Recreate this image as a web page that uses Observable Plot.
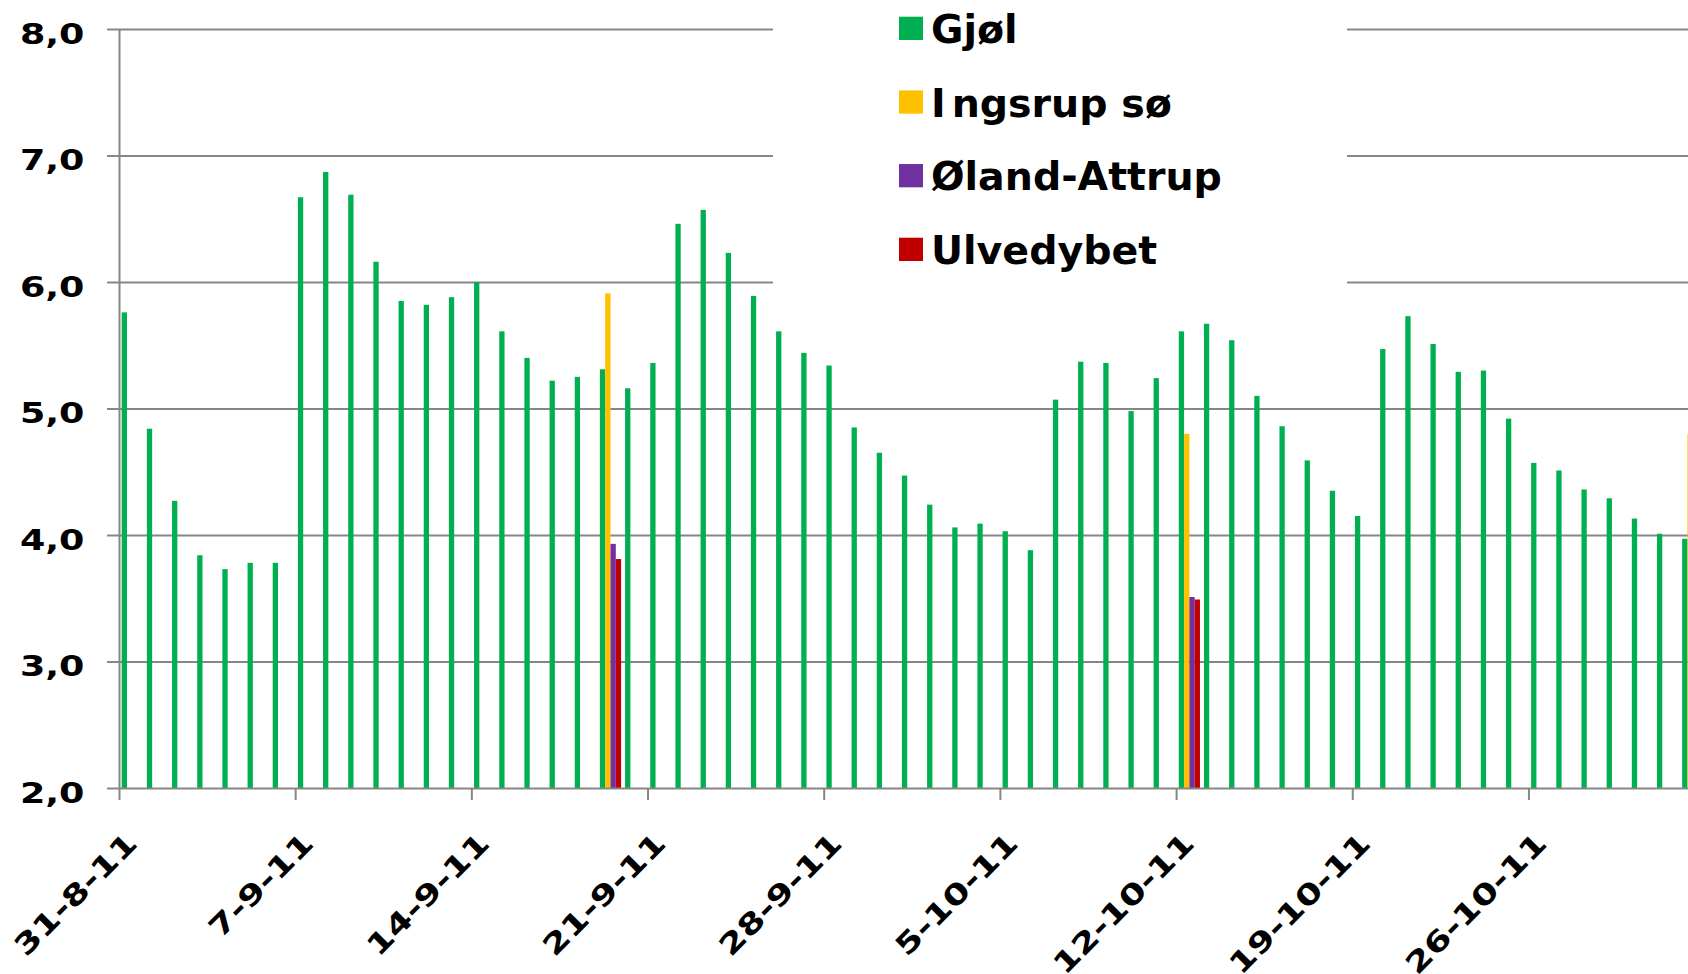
<!DOCTYPE html>
<html>
<head>
<meta charset="utf-8">
<script src="https://cdn.jsdelivr.net/npm/d3@7"></script>
<script src="https://cdn.jsdelivr.net/npm/@observablehq/plot@0.6"></script>
<style>
html, body { margin: 0; padding: 0; background: #fff; overflow: hidden; }
#wrap { position: relative; width: 1688px; height: 974px; }
#legend { position: absolute; left: 773px; top: 0; }
</style>
</head>
<body>
<div id="wrap"></div>
<script>
// ---------- data ----------
const startDate = "2011-08-31";
const seriesNames = ["Gjøl", "Ingsrup sø", "Øland-Attrup", "Ulvedybet"];
const seriesColors = ["#00B050", "#FFC000", "#7030A0", "#C00000"];

// Gjøl: one value per day from 31-8-11 to 1-11-11
const gjolValues = [
  5.76, 4.84, 4.27, 3.84, 3.73, 3.78, 3.78,
  6.67, 6.87, 6.69, 6.16, 5.85, 5.82, 5.88,
  6.00, 5.61, 5.40, 5.22, 5.25, 5.31, 5.16,
  5.36, 6.46, 6.57, 6.23, 5.89, 5.61, 5.44,
  5.34, 4.85, 4.65, 4.47, 4.24, 4.06, 4.09,
  4.03, 3.88, 5.07, 5.37, 5.36, 4.98, 5.24,
  5.61, 5.67, 5.54, 5.10, 4.86, 4.59, 4.35,
  4.15, 5.47, 5.73, 5.51, 5.29, 5.30, 4.92,
  4.57, 4.51, 4.36, 4.29, 4.13, 4.01, 3.97
];
const ingsrupDates = ["2011-09-19", "2011-10-12", "2011-11-01"];
const ingsrupValues = [5.91, 4.80, 4.80];
const olandDates = ["2011-09-19", "2011-10-12"];
const olandValues = [3.93, 3.51];
const ulvedybetDates = ["2011-09-19", "2011-10-12"];
const ulvedybetValues = [3.81, 3.49];

const yTicks = [2, 3, 4, 5, 6, 7, 8];
const yTickLabels = ["2,0", "3,0", "4,0", "5,0", "6,0", "7,0", "8,0"];
const xTickDates = ["2011-08-31", "2011-09-07", "2011-09-14", "2011-09-21", "2011-09-28",
                    "2011-10-05", "2011-10-12", "2011-10-19", "2011-10-26"];
const xTickLabels = ["31-8-11", "7-9-11", "14-9-11", "21-9-11", "28-9-11",
                     "5-10-11", "12-10-11", "19-10-11", "26-10-11"];

// ---------- table ----------
const parse = s => new Date(s + "T00:00:00Z");
const x0 = parse(startDate);
const rows = [];
gjolValues.forEach((v, i) => rows.push({date: d3.utcDay.offset(x0, i), series: seriesNames[0], value: v}));
ingsrupDates.forEach((d, i) => rows.push({date: parse(d), series: seriesNames[1], value: ingsrupValues[i]}));
olandDates.forEach((d, i) => rows.push({date: parse(d), series: seriesNames[2], value: olandValues[i]}));
ulvedybetDates.forEach((d, i) => rows.push({date: parse(d), series: seriesNames[3], value: ulvedybetValues[i]}));

// ---------- layout ----------
const W = 1688, H = 974, mL = 119, mR = 0, mT = 29, mB = 186;
const visibleDays = 62.34;
const x1 = new Date(+x0 + visibleDays * 864e5);
const dayWidth = (W - mL - mR) / visibleDays;
const barW = 5.3, barOff = 2.7;
const grey = "#868686";
const font = "'DejaVu Sans', Verdana, sans-serif";
const yStretch = 1.28, xStretch = 1.3;

const barMarks = seriesNames.map((name, i) =>
  Plot.rectY(rows.filter(r => r.series === name), {
    x: "date",
    interval: d3.utcDay,
    y1: 2,
    y2: "value",
    fill: seriesColors[i],
    insetLeft: barOff + i * barW,
    insetRight: dayWidth - barOff - (i + 1) * barW,
    clip: "frame"
  })
);

const chart = Plot.plot({
  width: W,
  height: H,
  marginLeft: mL,
  marginRight: mR,
  marginTop: mT,
  marginBottom: mB,
  style: {
    fontFamily: font,
    fontSize: "28.5px",
    fontWeight: "bold",
    color: "black",
    background: "white",
    maxWidth: "none"
  },
  x: {type: "utc", domain: [x0, x1], axis: null},
  y: {domain: [2, 8], axis: null},
  marks: [
    Plot.gridY(yTicks.slice(1), {stroke: grey, strokeOpacity: 1, strokeWidth: 2}),
    ...barMarks,
    Plot.ruleY([2], {stroke: grey, strokeWidth: 2}),
    Plot.ruleX([x0], {stroke: grey, strokeWidth: 2}),
    Plot.axisY({ticks: yTicks, tickSize: 12, tickFormat: () => "", stroke: grey, strokeWidth: 2, label: null}),
    Plot.axisX({ticks: xTickDates.map(parse), tickSize: 12, tickFormat: () => "", stroke: grey, strokeWidth: 2, label: null}),
    Plot.text(yTicks, {
      y: d => d, frameAnchor: "left", text: (d, i) => yTickLabels[i],
      textAnchor: "end", dx: -35, dy: 5, fill: "black"
    }),
    Plot.text(xTickDates.map(parse), {
      x: d => d, frameAnchor: "bottom", text: (d, i) => xTickLabels[i],
      rotate: -45, textAnchor: "end", lineAnchor: "middle", dx: 13, dy: 50, fill: "black"
    })
  ]
});

// stretch tick label glyphs horizontally along their baseline
chart.querySelectorAll('g[aria-label="text"] text').forEach(t => {
  let tr = t.getAttribute("transform");
  if (!tr) {
    const x = t.getAttribute("x") || 0, y = t.getAttribute("y") || 0;
    tr = `translate(${x},${y})`;
    t.removeAttribute("x");
    t.removeAttribute("y");
  }
  const rotated = /rotate/.test(tr);
  t.setAttribute("transform", tr + ` scale(${rotated ? xStretch : yStretch},1)`);
});

const wrap = document.getElementById("wrap");
wrap.appendChild(chart);

// ---------- legend (overlaying the top of the plot) ----------
const lg = d3.select(wrap).append("svg")
  .attr("id", "legend")
  .attr("width", 574)
  .attr("height", 300)
  .style("font-family", font)
  .style("font-weight", "bold")
  .style("font-size", "39.5px");
lg.append("rect").attr("width", 574).attr("height", 300).attr("fill", "white");
const item = lg.selectAll("g.item").data(seriesNames).join("g")
  .attr("class", "item")
  .attr("transform", (d, i) => `translate(0,${i * 73.67})`);
item.append("rect")
  .attr("x", 126).attr("y", 16.7).attr("width", 24).attr("height", 23.3)
  .attr("fill", (d, i) => seriesColors[i]);
item.append("text")
  .attr("x", 158).attr("y", 43)
  .attr("fill", "black")
  .each(function(d) {
    const t = d3.select(this);
    if (d.startsWith("In")) {
      // Excel draws a wide gap after the capital I
      t.append("tspan").text(d.slice(0, 1));
      t.append("tspan").attr("dx", 6).text(d.slice(1));
    } else {
      t.text(d);
    }
  });
</script>
</body>
</html>
